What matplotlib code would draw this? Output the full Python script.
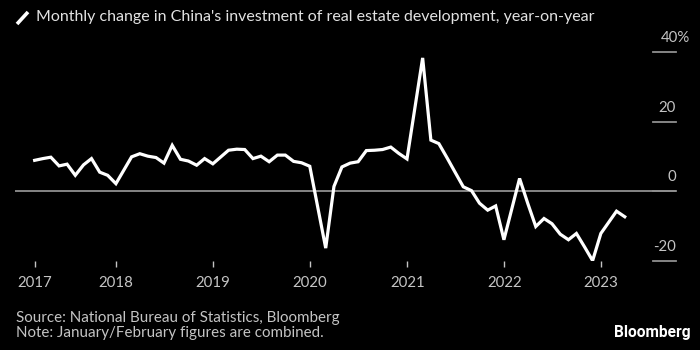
import pandas as pd
import matplotlib
matplotlib.use('Agg')
import matplotlib.pyplot as plt
from matplotlib.lines import Line2D

# monthly yoy change (%), Jan/Feb combined -> one point at end of Feb
vals_2017 = [8.9, 9.4, 9.8, 7.3, 7.8, 4.6, 7.6, 9.4, 5.5, 4.6, 2.2]
vals_2018 = [9.9, 10.8, 10.1, 9.7, 8.1, 13.2, 9.2, 8.7, 7.5, 9.4, 7.9]
vals_2019 = [11.8, 12.1, 12.0, 9.4, 10.1, 8.5, 10.4, 10.4, 8.6, 8.2, 7.2]
vals_2020 = [-16.3, 1.4, 7.0, 8.1, 8.5, 11.7, 11.8, 12.0, 12.7, 10.9, 9.3]
vals_2021 = [38.3, 14.7, 13.7, 9.6, 5.5, 1.3, 0.2, -3.4, -5.4, -4.2, -13.9]
vals_2022 = [3.7, -3.5, -10.1, -7.8, -9.3, -12.3, -13.9, -12.1, -16.0, -19.9, -12.1]
vals_2023 = [-5.7, -7.3]
values = vals_2017 + vals_2018 + vals_2019 + vals_2020 + vals_2021 + vals_2022 + vals_2023

months = pd.date_range('2017-02-28', '2023-03-31', freq=pd.offsets.MonthEnd())
months = months[months.month != 1]

tick_dates = pd.to_datetime(['2017-02-28', '2018-01-01', '2019-01-01', '2020-01-01',
                             '2021-01-01', '2022-01-01', '2023-01-01'])
tick_labels = ['2017', '2018', '2019', '2020', '2021', '2022', '2023']
y_ticks = [40, 20, 0, -20]
y_labels = ['40%', '20', '0', '-20']

plt.rcParams['font.family'] = ['Lato', 'DejaVu Sans']

W, H = 700, 350
fig = plt.figure(figsize=(7, 3.5), dpi=100, facecolor='black')
ax = fig.add_axes([15 / W, 89 / H, 661 / W, 209 / H])
ax.set_facecolor('black')

grid_col = '#8f8f8f'
text_col = '#c4c4c4'

ax.axhline(0, color=grid_col, lw=1.3, zorder=1)
for v in y_ticks:
    ax.axhline(v, xmin=(653 - 15) / 661, xmax=1, color=grid_col, lw=1.3, clip_on=False, zorder=1)

ax.plot(months, values, color='white', lw=2.3, solid_joinstyle='miter', zorder=3)

ax.set_xlim(pd.Timestamp('2016-12-16'), pd.Timestamp('2023-10-10'))
ax.set_ylim(-20, 40)
for s in ax.spines.values():
    s.set_visible(False)

ax.set_yticks([])
ax.set_xticks(tick_dates)
ax.set_xticklabels(tick_labels)
ax.tick_params(axis='x', length=4, width=1, color=text_col, labelcolor=text_col,
               labelsize=10.8, pad=7)

ytr = ax.get_yaxis_transform()
for v, lab in zip(y_ticks, y_labels):
    # the % of the top label hangs past the right edge
    x = (690 - 15) / 661 if lab.endswith('%') else 1.0
    ax.text(x, v + 4.0, lab, transform=ytr, ha='right', va='center',
            color=text_col, fontsize=10.8)

# title with slash marker
fig.add_artist(Line2D([17 / W, 28 / W], [1 - 24 / H, 1 - 12 / H], transform=fig.transFigure,
                      color='white', lw=2.6, solid_capstyle='butt'))
fig.text(36 / W, 1 - 17 / H, "Monthly change in China's investment of real estate development, year-on-year",
         color='#e2e2e2', fontsize=11.5, va='center', ha='left')

fig.text(16 / W, 1 - 318 / H, 'Source: National Bureau of Statistics, Bloomberg',
         color=text_col, fontsize=10.9, va='center')
fig.text(16 / W, 1 - 332.5 / H, 'Note: January/February figures are combined.',
         color=text_col, fontsize=10.9, va='center')
fig.text(691 / W, 1 - 333 / H, 'Bloomberg', color='white', fontsize=11.2,
         fontweight='bold', ha='right', va='center', family=['Roboto', 'DejaVu Sans'])

fig.savefig('out.png', dpi=100, facecolor='black')
